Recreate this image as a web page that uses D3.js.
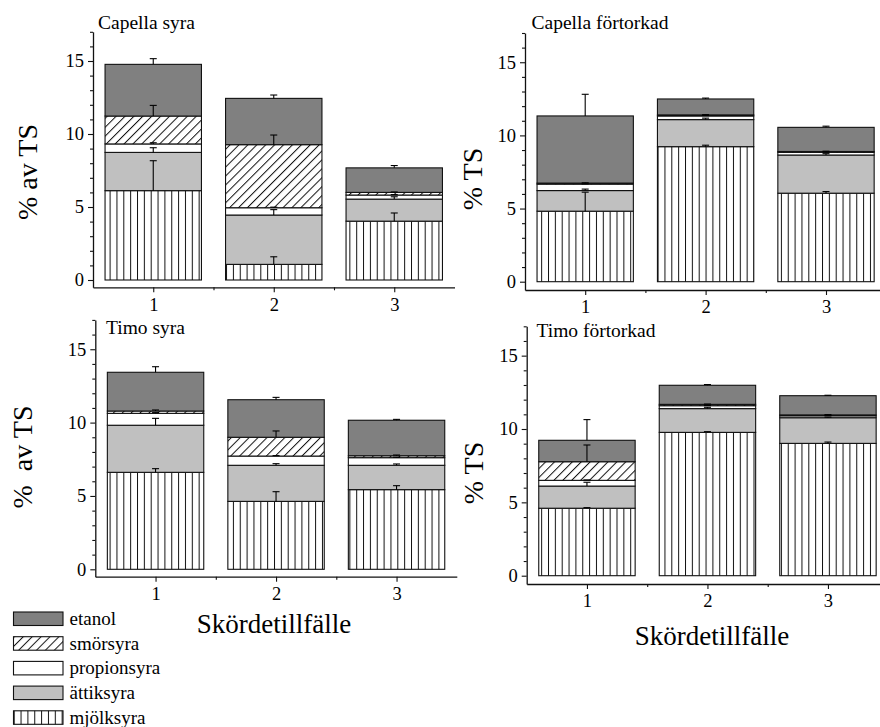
<!DOCTYPE html>
<html>
<head>
<meta charset="utf-8">
<script src="https://cdn.jsdelivr.net/npm/d3@7"></script>
<style>
  html, body { margin: 0; padding: 0; background: #fff; }
  svg { display: block; }
  text { font-family: "Liberation Serif", "Times New Roman", serif; fill: #000; }
</style>
</head>
<body>
<svg id="chart" width="880" height="727"></svg>
<script>
// ---------------- DATA ----------------
const categories = [1, 2, 3];
const categoryLabels = ["1", "2", "3"];
// stacking order bottom -> top
const components = ["mjölksyra", "ättiksyra", "propionsyra", "smörsyra", "etanol"];
const legendOrder = ["etanol", "smörsyra", "propionsyra", "ättiksyra", "mjölksyra"];
const yMajorTicks = [0, 5, 10, 15];
const yMinorTicks = [1, 2, 3, 4, 6, 7, 8, 9, 11, 12, 13, 14, 16, 17];
const xMinorTicks = [1.5, 2.5];
const panelTitles = ["Capella syra", "Capella förtorkad", "Timo syra", "Timo förtorkad"];
const yLabels = ["% av TS", "% TS", "%  av TS", "% TS"];
const xLabel = "Skördetillfälle";

// segment heights (% av TS), rows = components (bottom->top), cols = Skördetillfälle 1..3
const capellaSyraMean = [
  [6.12, 1.07, 4.03],
  [2.62, 3.38, 1.51],
  [0.58, 0.50, 0.28],
  [1.91, 4.32, 0.18],
  [3.54, 3.17, 1.68]
];
const capellaSyraErr = [
  [2.05, 0.52, 0.56],
  [0.32, 0.37, 0.16],
  [0.08, 0.04, 0.03],
  [0.73, 0.66, 0.03],
  [0.39, 0.23, 0.16]
];
const capellaFortorkadMean = [
  [4.82, 9.23, 6.05],
  [1.41, 1.85, 2.61],
  [0.44, 0.25, 0.18],
  [0.07, 0.07, 0.06],
  [4.59, 1.09, 1.65]
];
const capellaFortorkadErr = [
  [1.30, 0.10, 0.11],
  [0.10, 0.10, 0.09],
  [0.02, 0.03, 0.02],
  [0.02, 0.02, 0.02],
  [1.48, 0.06, 0.08]
];
const timoSyraMean = [
  [6.61, 4.63, 5.43],
  [3.21, 2.46, 1.66],
  [0.81, 0.63, 0.52],
  [0.16, 1.28, 0.13],
  [2.64, 2.56, 2.42]
];
const timoSyraErr = [
  [0.25, 0.66, 0.27],
  [0.47, 0.11, 0.09],
  [0.05, 0.03, 0.03],
  [0.07, 0.43, 0.05],
  [0.38, 0.16, 0.06]
];
const timoFortorkadMean = [
  [4.60, 9.77, 9.02],
  [1.51, 1.62, 1.75],
  [0.39, 0.20, 0.13],
  [1.27, 0.09, 0.06],
  [1.46, 1.30, 1.31]
];
const timoFortorkadErr = [
  [0.04, 0.05, 0.09],
  [0.26, 0.09, 0.04],
  [0.03, 0.02, 0.02],
  [1.14, 0.02, 0.02],
  [1.41, 0.05, 0.03]
];

// ---------------- LAYOUT ----------------
const svg = d3.select("#chart");
const FONT = '"Liberation Serif", "Times New Roman", serif';

const fills = {
  "mjölksyra": "url(#vlines)",
  "ättiksyra": "#c0c0c0",
  "propionsyra": "#ffffff",
  "smörsyra": "url(#hatch)",
  "etanol": "#808080"
};

const defs = svg.append("defs");
const pv = defs.append("pattern").attr("id", "vlines")
  .attr("patternUnits", "userSpaceOnUse").attr("width", 6.85).attr("height", 10);
pv.append("rect").attr("width", 6.85).attr("height", 10).attr("fill", "#fff");
pv.append("line").attr("x1", 0.5).attr("x2", 0.5).attr("y1", 0).attr("y2", 10)
  .attr("stroke", "#111").attr("stroke-width", 1);

const ph = defs.append("pattern").attr("id", "hatch")
  .attr("patternUnits", "userSpaceOnUse").attr("width", 6.3).attr("height", 10)
  .attr("patternTransform", "rotate(45)");
ph.append("rect").attr("width", 6.3).attr("height", 10).attr("fill", "#fff");
ph.append("line").attr("x1", 0.5).attr("x2", 0.5).attr("y1", 0).attr("y2", 10)
  .attr("stroke", "#111").attr("stroke-width", 1);

const panels = [
  { title: panelTitles[0], mean: capellaSyraMean, err: capellaSyraErr, ylab: yLabels[0],
    left: 93, zeroY: 280, ppu: 14.6, bottomY: 287.3, ppx: 120.5,
    titleX: 98, titleY: 29, ylabX: 37, ylabY: 172 },
  { title: panelTitles[1], mean: capellaFortorkadMean, err: capellaFortorkadErr, ylab: yLabels[1],
    left: 525, zeroY: 281.7, ppu: 14.63, bottomY: 290, ppx: 120.4,
    titleX: 531.5, titleY: 28.5, ylabX: 482, ylabY: 179 },
  { title: panelTitles[2], mean: timoSyraMean, err: timoSyraErr, ylab: yLabels[2],
    left: 95.3, zeroY: 569.3, ppu: 14.67, bottomY: 576.7, ppx: 120.5,
    titleX: 106, titleY: 334, ylabX: 32, ylabY: 457, xlabX: 274, xlabY: 633 },
  { title: panelTitles[3], mean: timoFortorkadMean, err: timoFortorkadErr, ylab: yLabels[3],
    left: 526.7, zeroY: 575.7, ppu: 14.67, bottomY: 584, ppx: 120.5,
    titleX: 536.5, titleY: 336.5, ylabX: 483, ylabY: 473, xlabX: 712, xlabY: 645 }
];

panels.forEach(p => {
  const yMin = -(p.bottomY - p.zeroY) / p.ppu;
  const y = d3.scaleLinear().domain([yMin, 17])
    .range([p.bottomY, p.bottomY - (17 - yMin) * p.ppu]);
  const x = d3.scaleLinear().domain([0.5, 3.5]).range([p.left, p.left + 3 * p.ppx]);
  const bw = 0.8 * p.ppx;

  const g = svg.append("g");

  // bars
  const barG = g.append("g");
  const errG = g.append("g");
  categories.forEach((c, ci) => {
    let cum = 0;
    components.forEach((comp, k) => {
      const v = p.mean[k][ci];
      const e = p.err[k][ci];
      const y0 = cum, y1 = cum + v;
      cum = y1;
      barG.append("rect")
        .attr("x", x(c) - bw / 2)
        .attr("width", bw)
        .attr("y", y(y1))
        .attr("height", Math.max(0.01, y(y0) - y(y1)))
        .attr("fill", fills[comp])
        .attr("stroke", "#111")
        .attr("stroke-width", 1.1);
      const cx = x(c);
      errG.append("line")
        .attr("x1", cx).attr("x2", cx)
        .attr("y1", y(y1)).attr("y2", y(y1 + e))
        .attr("stroke", "#000").attr("stroke-width", 1.1);
      errG.append("line")
        .attr("x1", cx - 3.5).attr("x2", cx + 3.5)
        .attr("y1", y(y1 + e)).attr("y2", y(y1 + e))
        .attr("stroke", "#000").attr("stroke-width", 1.1);
    });
  });

  // y axis
  const yAxisG = g.append("g").attr("transform", `translate(${p.left},0)`);
  yAxisG.call(d3.axisLeft(y).tickValues(yMinorTicks).tickSize(3).tickSizeOuter(0).tickFormat(""));
  const yMaj = g.append("g").attr("transform", `translate(${p.left},0)`)
    .call(d3.axisLeft(y).tickValues(yMajorTicks).tickSize(5).tickSizeOuter(0).tickPadding(4)
      .tickFormat(d3.format("d")));
  yMaj.select(".domain").remove();

  // x axis
  const xAxisG = g.append("g").attr("transform", `translate(0,${p.bottomY})`);
  xAxisG.call(d3.axisBottom(x).tickValues(xMinorTicks).tickSize(3).tickSizeOuter(0).tickFormat(""));
  const xMaj = g.append("g").attr("transform", `translate(0,${p.bottomY})`)
    .call(d3.axisBottom(x).tickValues(categories).tickSize(5).tickSizeOuter(0).tickPadding(5.2)
      .tickFormat((d, i) => categoryLabels[i]));
  xMaj.select(".domain").remove();

  g.selectAll(".domain").attr("stroke", "#111").attr("stroke-width", 1.3);
  g.selectAll(".tick line").attr("stroke", "#111").attr("stroke-width", 1.1);
  g.selectAll(".tick text").attr("font-family", FONT).attr("font-size", 18.5).attr("fill", "#000");

  // title
  g.append("text").attr("x", p.titleX).attr("y", p.titleY)
    .attr("font-size", 19.5).text(p.title);

  // y label
  g.append("text")
    .attr("transform", `translate(${p.ylabX},${p.ylabY}) rotate(-90)`)
    .attr("text-anchor", "middle")
    .attr("font-size", 28)
    .style("white-space", "pre")
    .text(p.ylab);

  // x label
  if (p.xlabX !== undefined) {
    g.append("text").attr("x", p.xlabX).attr("y", p.xlabY)
      .attr("text-anchor", "middle").attr("font-size", 27).text(xLabel);
  }
});

// legend
const leg = svg.append("g");
legendOrder.forEach((comp, i) => {
  const top = 612 + i * 24.7;
  leg.append("rect")
    .attr("x", 13.5).attr("y", top).attr("width", 49.5).attr("height", 13.5)
    .attr("fill", fills[comp]).attr("stroke", "#111").attr("stroke-width", 1.1);
  leg.append("text").attr("x", 69.5).attr("y", top + 12.8)
    .attr("font-size", 19).text(comp);
});
</script>
</body>
</html>
